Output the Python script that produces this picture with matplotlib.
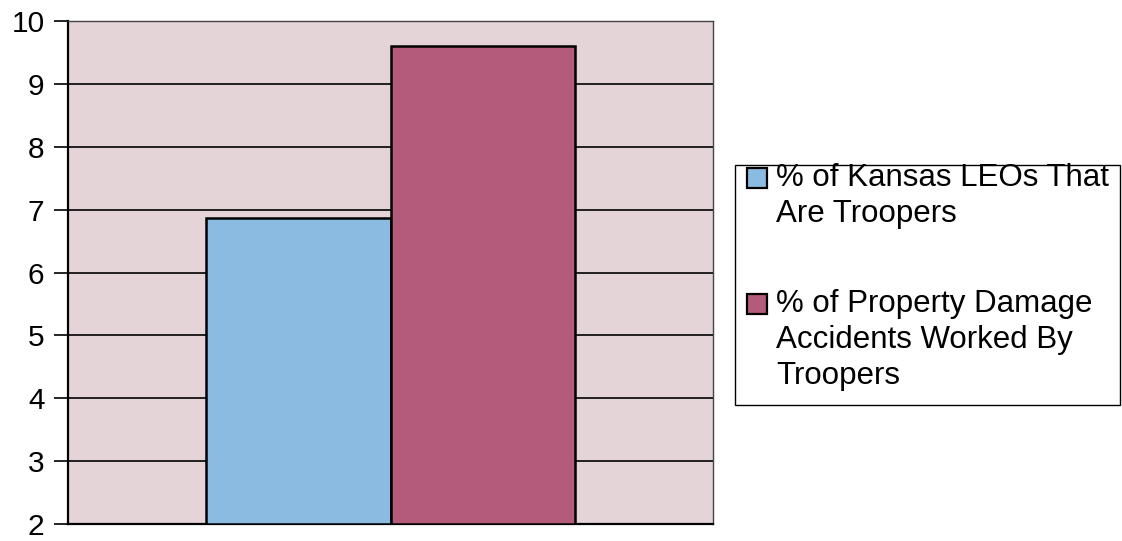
import numpy as np
import matplotlib.pyplot as plt
from matplotlib.patches import Rectangle

plt.rcParams['font.family'] = ['Liberation Sans', 'DejaVu Sans']

# 数据
series_labels = ["% of Kansas LEOs That\nAre Troopers",
                 "% of Property Damage\nAccidents Worked By\nTroopers"]
series_values = [6.87, 9.6]
series_colors = ["#8bbbe0", "#b45a7a"]
y_ticks = [2, 3, 4, 5, 6, 7, 8, 9, 10]

W, H = 1122, 541
fig = plt.figure(figsize=(W / 100, H / 100), dpi=100)
ax = fig.add_axes([68 / W, 1 - 524 / H, 645 / W, 503 / H])
ax.set_facecolor("#e4d4d8")

bar_w = 0.286
offsets = [-bar_w / 2, bar_w / 2]
for off, val, col, lab in zip(offsets, series_values, series_colors, series_labels):
    ax.bar(0.5 + off, val - 2, bottom=2, width=bar_w, color=col,
           edgecolor="black", linewidth=1.8, label=lab, zorder=3)

ax.set_xlim(0, 1)
ax.set_ylim(2, 10)
ax.set_yticks(y_ticks)
ax.set_yticklabels([str(t) for t in y_ticks], fontsize=21.5)
ax.set_xticks([])
ax.yaxis.grid(True, color="black", linewidth=1.2, zorder=1)
ax.set_axisbelow(True)
ax.tick_params(axis="y", length=10, width=1.2, pad=7, direction="out")

for side in ["left", "bottom"]:
    ax.spines[side].set_linewidth(1.6)
    ax.spines[side].set_color("black")
for side in ["top", "right"]:
    ax.spines[side].set_linewidth(1.0)
    ax.spines[side].set_color("#444444")


def px(x, y):
    # 像素坐标 -> figure 坐标
    return x / W, 1 - y / H


# 图例（手动布置，色块对齐每项首行）
x0, y0 = px(735, 405)
fig.patches.append(Rectangle((x0, y0), 385 / W, 240 / H, transform=fig.transFigure,
                             facecolor="white", edgecolor="black", linewidth=1.0))
first_line_y = [178, 304]
for yc, col, lab in zip(first_line_y, series_colors, series_labels):
    sx, sy = px(747, yc + 10)
    fig.patches.append(Rectangle((sx, sy), 20 / W, 20 / H, transform=fig.transFigure,
                                 facecolor=col, edgecolor="black", linewidth=1.6))
    tx, ty = px(776, yc - 15)
    fig.text(tx, ty, lab, fontsize=22.5, ha="left", va="top", linespacing=1.27)

fig.savefig("out.png", dpi=100)
